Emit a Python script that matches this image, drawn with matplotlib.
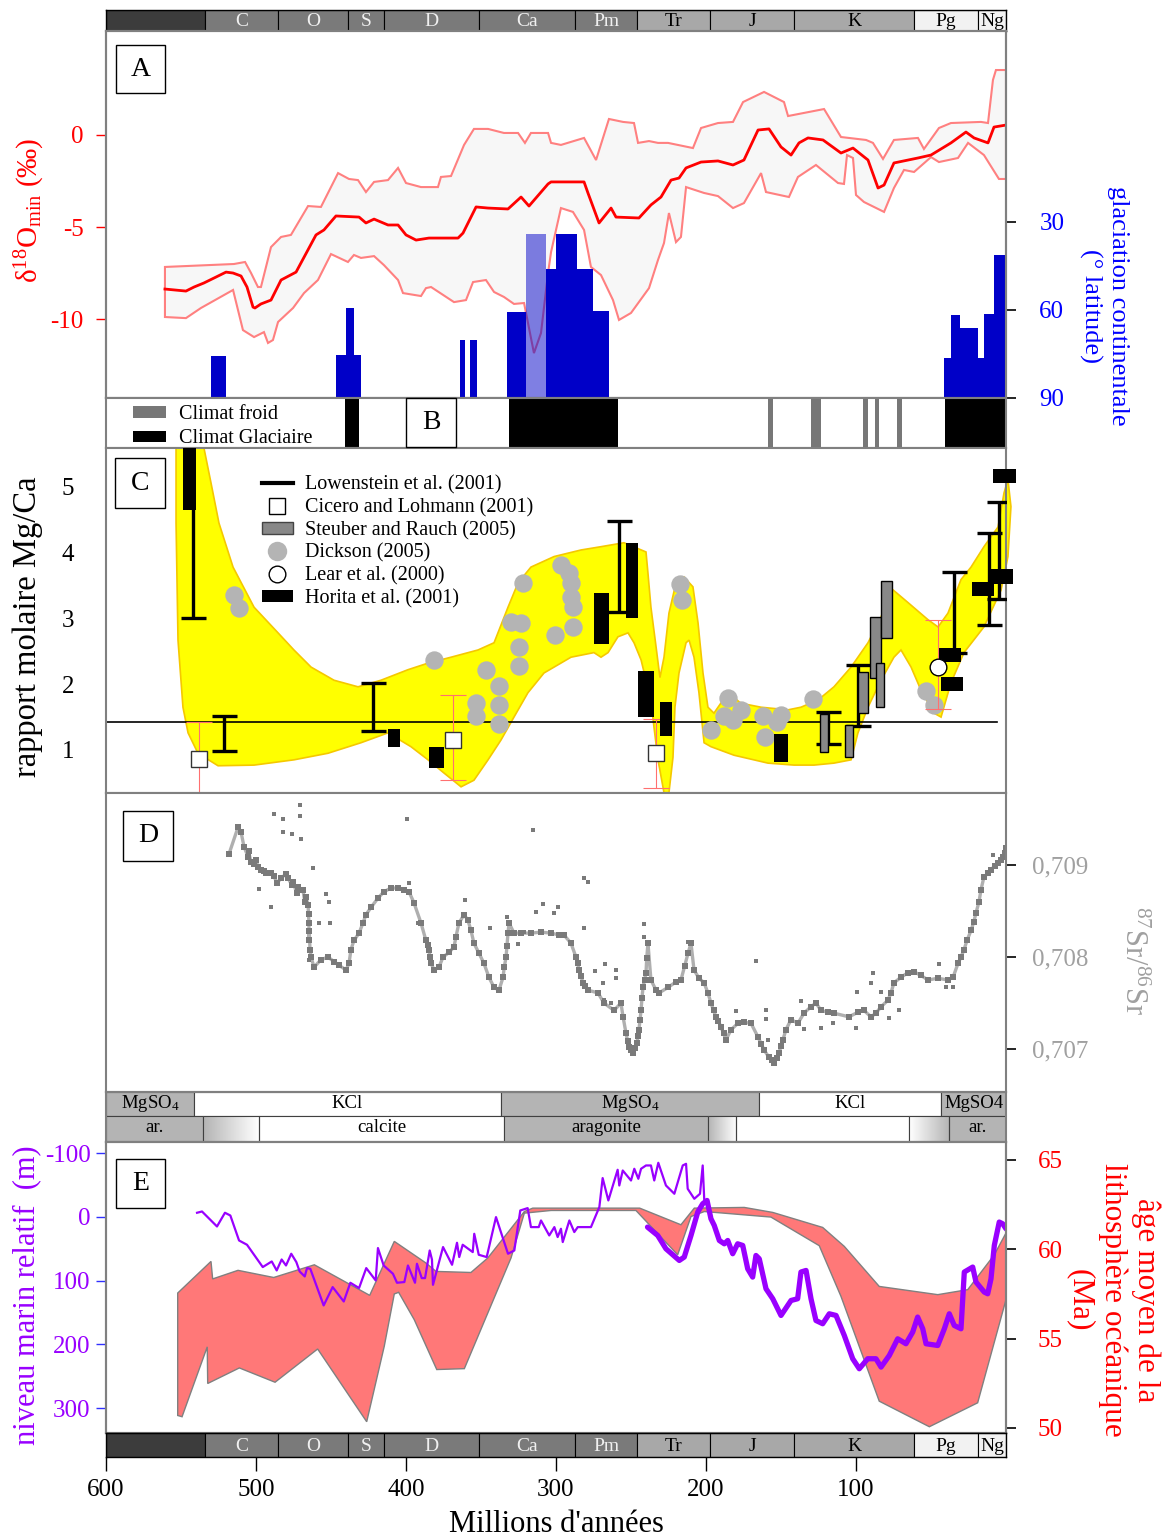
import numpy as np
import matplotlib
matplotlib.use('Agg')
import matplotlib.pyplot as plt
from matplotlib.patches import Rectangle, Patch
from matplotlib.lines import Line2D
from matplotlib.colors import LinearSegmentedColormap

plt.rcParams['font.family'] = ['Liberation Serif', 'DejaVu Serif']
plt.rcParams['mathtext.fontset'] = 'custom'
plt.rcParams['mathtext.rm'] = 'Liberation Serif'
plt.rcParams['mathtext.it'] = 'Liberation Serif:italic'
plt.rcParams['mathtext.bf'] = 'Liberation Serif:bold'
plt.rcParams['axes.unicode_minus'] = False

# ---------------- DATA ----------------
# geological time scale (Ma)
period_names = ['', 'C', 'O', 'S', 'D', 'Ca', 'Pm', 'Tr', 'J', 'K', 'Pg', 'Ng']
period_start = [600, 534, 485.3, 438.7, 414.7, 351.3, 287.3, 246, 197.3, 141.3, 61.3, 18.7]
period_end = [534, 485.3, 438.7, 414.7, 351.3, 287.3, 246, 197.3, 141.3, 61.3, 18.7, 0]
x_ticks = [600, 500, 400, 300, 200, 100]

# Panel A : d18O min (permil)
d18_mean_age = [560.7, 546.7, 541.3, 534.7, 526.7, 520, 515.3, 510, 506, 502, 500.7, 496.7, 490, 483.3, 473.3, 460, 454.7, 446.7, 431.3, 426.7, 421.3, 412, 405.3, 400, 393.3, 384.7, 365.3, 362, 353.3, 345.3, 332, 323.3, 318, 305.3, 303.3, 281.3, 278.7, 271.3, 263.3, 260, 244.7, 236.7, 230, 223.3, 218, 213.3, 203.3, 192, 182, 174.7, 165.3, 158, 150, 143.3, 138, 132, 122, 110, 102, 92, 85.3, 81.3, 74.7, 58.7, 50, 36.7, 26.7, 21.3, 12, 8, 0]
d18_mean = [-8.37, -8.48, -8.26, -8.04, -7.72, -7.45, -7.5, -7.66, -8.26, -9.35, -9.4, -9.18, -8.97, -7.88, -7.45, -5.43, -5.16, -4.4, -4.46, -4.78, -4.57, -4.89, -4.89, -5.43, -5.71, -5.6, -5.6, -5.33, -3.91, -3.97, -4.02, -3.37, -3.86, -2.66, -2.55, -2.55, -3.15, -4.78, -3.97, -4.46, -4.51, -3.8, -3.37, -2.45, -2.34, -1.79, -1.47, -1.41, -1.63, -1.36, 0.27, 0.33, -0.65, -1.09, -0.43, -0.16, -0.27, -0.98, -0.71, -1.36, -2.88, -2.72, -1.52, -1.25, -1.09, -0.43, 0.16, -0.16, -0.43, 0.43, 0.54]
d18_up_age = [560.7, 514.7, 507.3, 503.3, 498.7, 496.7, 490, 483.3, 476.7, 465.3, 456.7, 445.3, 438, 432, 426.7, 421.3, 412, 405.3, 400, 390, 378.7, 376.7, 370, 361.3, 354.7, 345.3, 334.7, 325.3, 320.7, 316.7, 305.3, 303.3, 296.7, 281.3, 273.3, 264.7, 255.3, 248, 245.3, 238, 232, 225.3, 208.7, 203.3, 192, 182, 175.3, 161.3, 148, 145.3, 121.3, 110, 93.3, 88.7, 82, 74.7, 58.7, 54.7, 44.7, 36.7, 16.7, 12, 8.7, 6.7, 0]
d18_up = [-7.17, -7.01, -6.9, -7.5, -8.26, -8.26, -6.09, -5.54, -5.43, -3.86, -3.91, -2.07, -2.39, -2.45, -3.1, -2.55, -2.45, -1.79, -2.61, -2.83, -2.83, -2.28, -2.23, -0.54, 0.33, 0.33, 0.11, 0.11, -0.43, 0.11, 0.11, -0.43, -0.54, -0.16, -1.36, 0.87, 0.71, 0.65, -0.43, -0.33, -0.43, -0.43, -0.71, 0.38, 0.65, 0.71, 1.79, 2.34, 1.79, 1.03, 1.41, -0.11, -0.27, -0.43, -1.3, -0.27, -0.16, -0.76, 0.38, 0.65, 0.71, 0.65, 2.99, 3.53, 3.53]
d18_lo_age = [560.7, 546.7, 536.7, 515.3, 512, 508.7, 501.3, 494.7, 492, 488.7, 485.3, 475.3, 468, 458.7, 450, 438.7, 434.7, 430, 421.3, 414.7, 405.3, 402, 390, 386.7, 383.3, 368, 360, 355.3, 346.7, 341.3, 334.7, 328, 321.3, 314.7, 310, 305.3, 303.3, 296.7, 288.7, 281.3, 276.7, 270, 262, 258, 250, 238, 232, 228, 224.7, 220, 216.7, 213.3, 201.3, 192, 182, 174.7, 163.3, 160, 144.7, 138.7, 126.7, 112, 108, 106, 102, 100, 94.7, 81.3, 74.7, 68, 61.3, 50, 44.7, 32, 25.3, 14.7, 4.7, 0]
d18_lo = [-9.89, -9.95, -9.4, -8.42, -9.51, -10.6, -10.98, -10.71, -11.3, -11.14, -10.16, -9.4, -8.59, -7.88, -6.47, -6.9, -6.52, -6.68, -6.58, -7.07, -7.88, -8.59, -8.75, -8.32, -8.26, -9.08, -8.97, -7.99, -7.88, -8.53, -8.8, -9.18, -9.13, -11.85, -10.76, -7.5, -6.36, -3.97, -4.18, -5.16, -7.17, -7.61, -8.97, -10.05, -9.67, -8.32, -6.79, -5.87, -4.24, -5.82, -5.54, -2.83, -3.15, -3.32, -3.97, -3.7, -2.07, -3.1, -3.37, -2.28, -1.63, -2.61, -2.66, -1.09, -1.25, -3.26, -3.64, -4.18, -2.88, -1.9, -2.01, -1.2, -1.47, -1.25, -0.43, -1.09, -2.39, -2.39]
d18_ticks = [0, -5, -10]

# Panel A : continental glaciation (degrees latitude)
glac_old = [530, 446.7, 440, 364, 357.3, 332.7, 306.7, 300, 286, 275.3, 41.3, 36.7, 30.7, 18.7, 14.7, 8]
glac_young = [520, 430, 434.7, 360.7, 352.7, 320, 300, 286, 275.3, 264.7, 36.7, 30.7, 18.7, 14.7, 8, 0.7]
glac_lat = [75.7, 75.4, 59.4, 70.3, 70.3, 60.7, 46, 34.1, 46, 60.4, 76.4, 61.7, 66.2, 76.4, 61.4, 41.3]
glac_unc_old = [320]
glac_unc_young = [306.7]
glac_unc_lat = [34.1]
lat_ticks = [30, 60, 90]

# Panel B : climate
cold_old = [158.7, 130, 95.3, 87.3, 72.7]
cold_young = [155.3, 123.3, 92, 84.7, 69.3]
glacial_old = [440.7, 331.3, 40.7]
glacial_young = [431.3, 258.7, 0]

# Panel C : Mg/Ca
mg_band_age = [534.7, 530, 524.7, 515.3, 501.3, 485.3, 474.7, 463.3, 448, 432, 416.7, 398.7, 385.3, 370, 352, 341.3, 332, 325.3, 316.7, 301.3, 283.3, 270, 254.7, 240, 238.7, 236.7, 233.3, 230.7, 228, 224.7, 220, 214.7, 208.7, 205.3, 202, 198.7, 194.7, 185.3, 176.7, 163.3, 145.3, 136.7, 125.3, 114.7, 103.3, 92, 83.3, 76.7, 65.3, 52, 45.3, 38.7, 30, 23.3, 14.7, 5.3, 1.3, -1.3, -3.3,
               -1.3, 3.3, 14.7, 28, 36.7, 43.3, 48, 56.7, 63.3, 70, 74.7, 83.3, 92, 98.7, 103.3, 114.7, 128, 141.3, 158.7, 181.3, 196.7, 201.3, 204.7, 208, 211.3, 213.3, 218, 220.7, 222, 224.7, 228, 232, 234.7, 236.7, 240, 243.3, 248, 252, 258.7, 265.3, 270, 274.7, 290, 308, 318.7, 328, 336.7, 345.3, 354.7, 363.3, 374.7, 385.3, 396.7, 412, 430, 452, 474.7, 501.3, 525.3, 538.7, 545.3, 548.7, 552, 553.3, 553.3]
mg_band_val = [5.59, 5.06, 4.45, 3.78, 3.17, 2.78, 2.52, 2.26, 2.06, 1.96, 2.06, 2.22, 2.32, 2.41, 2.52, 2.63, 3.17, 3.54, 3.78, 3.94, 4.04, 4.09, 4.15, 4.01, 3.69, 3.17, 2.57, 2.10, 2.41, 3.08, 3.54, 3.63, 3.48, 2.93, 2.17, 1.65, 1.56, 1.87, 1.71, 1.65, 1.61, 1.65, 1.76, 1.96, 2.26, 2.63, 3.02, 3.46, 3.24, 2.98, 2.87, 3.08, 3.59, 3.78, 4.09, 4.39, 4.91, 5.11, 4.70,
               3.94, 3.43, 2.87, 2.48, 2.02, 1.50, 1.56, 1.91, 2.26, 2.52, 2.41, 2.06, 1.65, 1.26, 0.85, 0.80, 0.77, 0.77, 0.80, 0.92, 1.05, 1.11, 1.87, 2.41, 2.67, 2.63, 2.17, 1.65, 0.89, 0.35, 0.35, 0.85, 1.35, 1.76, 2.06, 2.37, 2.63, 2.78, 2.72, 2.48, 2.41, 2.48, 2.41, 2.17, 1.87, 1.50, 1.15, 0.85, 0.54, 0.44, 0.65, 0.85, 1.05, 1.26, 1.11, 0.95, 0.85, 0.77, 0.76, 0.95, 1.26, 1.65, 2.67, 4.45, 5.59]
mg_ref_level = 1.43
mg_ref_span = [600, 6]
lowen_age = [542, 521.3, 422, 258, 118.7, 98.7, 34.7, 11.3, 4.7]
lowen_lo = [3.0, 0.98, 1.29, 3.10, 1.09, 1.36, 2.48, 2.90, 3.30]
lowen_hi = [5.9, 1.52, 2.02, 4.48, 1.58, 2.29, 3.71, 4.30, 4.77]
cic_age = [537.8, 368.4, 233.3]
cic_val = [0.87, 1.15, 0.96]
cic_lo = [0.35, 0.54, 0.42]
cic_hi = [1.43, 1.84, 1.47]
steu_old = [124, 107.3, 98.7, 90.7, 86.7, 83.3]
steu_young = [118.7, 102, 92, 83.3, 81.3, 76]
steu_lo = [0.97, 0.89, 1.56, 2.10, 1.65, 2.70]
steu_hi = [1.55, 1.38, 2.19, 3.02, 2.32, 3.57]
dick_age = [514.9, 511.1, 381.5, 346.7, 322.2, 330, 323.3, 324.9, 324.9, 337.8, 353.3, 353.3, 337.8, 337.8, 300.5, 296.7, 291.1, 290, 290, 288.9, 288.5, 217.3, 216.2, 196.7, 185.5, 187.8, 182.2, 176.7, 161.8, 150, 152.9, 160.5, 128.5, 53.3, 48.2]
dick_val = [3.36, 3.16, 2.37, 2.22, 3.54, 2.95, 2.93, 2.56, 2.27, 1.97, 1.72, 1.51, 1.68, 1.40, 2.75, 3.81, 3.69, 3.54, 3.33, 3.18, 2.87, 3.52, 3.28, 1.30, 1.79, 1.51, 1.46, 1.61, 1.51, 1.53, 1.43, 1.19, 1.77, 1.89, 1.68]
lear_age = [45.5]
lear_val = [2.26]
lear_lo = [1.62]
lear_hi = [2.98]
hor_old = [549, 412.2, 384.5, 274.5, 253.3, 245.1, 230.5, 154.5, 44.5, 43.3, 22.7, 12.2, 8.5]
hor_young = [540, 404.2, 374.5, 264.5, 245.1, 234.4, 222.5, 145.1, 30, 28.5, 8.2, -4.9, -6.7]
hor_lo = [4.65, 1.05, 0.73, 2.61, 3.01, 1.50, 1.22, 0.82, 2.33, 1.89, 3.34, 3.52, 5.06]
hor_hi = [5.59, 1.32, 1.05, 3.39, 4.14, 2.20, 1.73, 1.24, 2.55, 2.11, 3.56, 3.75, 5.27]
mg_ticks = [1, 2, 3, 4, 5]

# Panel D : 87Sr/86Sr
sr_trace_age = [518, 512, 510, 508, 505.3, 503.3, 501.3, 498.7, 496.7, 493.3, 490, 488, 483.3, 478.7, 475.3, 472, 468.7, 466.7, 465.3, 464.7, 464.7, 463.3, 461.3, 456.7, 452, 448, 444.7, 440, 438, 436.7, 434.7, 431.3, 428.7, 426.7, 423.3, 418.7, 414.7, 410, 405.3, 401.3, 398, 394.7, 390, 386.7, 384.7, 383.3, 381.3, 378, 375.3, 371.3, 368, 366.7, 364.7, 361.3, 358.7, 356.7, 354.7, 351.3, 348, 344.7, 341.3, 338, 335.3, 333.3, 332, 331.3, 328, 323.3, 316.7, 310, 303.3, 298, 294.7, 290, 286.7, 284.7, 282, 278.7, 272, 268, 261.3, 256.7, 255.3, 253.3, 251.3, 248.7, 246, 244.7, 243.3, 242, 240, 238.7, 236.7, 233.3, 231.3, 225.3, 220, 216.7, 212, 210, 208, 204.7, 201.3, 198.7, 196.7, 193.3, 190, 186.7, 183.3, 178.7, 174.7, 170, 165.3, 161.3, 158, 154.7, 151.3, 148.7, 146.7, 143.3, 138.7, 134.7, 130, 126.7, 123.3, 118.7, 114.7, 104.7, 98.7, 94.7, 90, 86.7, 83.3, 78.7, 76.7, 74.7, 70, 65.3, 61.3, 56.7, 52, 45.3, 38.7, 35.3, 32, 28, 23.3, 20, 16.7, 14.7, 10, 5.3, 2, 0,
                30, 26, 21.5, 18, 12, 7.5, 3.5, 1, 465, 464.5, 464, 385.5, 384, 334.5, 332.7, 285.5, 283.3, 280.5, 252.3, 250, 247.3, 245.3, 244, 242.7, 241, 239.5, 195, 191.7, 188.3, 163.3, 156.3, 153, 150, 214.3, 505, 500, 495, 486, 480, 476, 473, 467.5]
sr_trace_val = [0.70912, 0.70941, 0.70936, 0.70920, 0.70909, 0.70903, 0.70901, 0.70898, 0.70895, 0.70891, 0.70891, 0.70888, 0.70886, 0.70886, 0.70882, 0.70876, 0.70873, 0.70865, 0.70857, 0.70837, 0.70818, 0.70800, 0.70789, 0.70797, 0.70800, 0.70795, 0.70791, 0.70786, 0.70793, 0.70808, 0.70818, 0.70826, 0.70837, 0.70846, 0.70854, 0.70864, 0.70871, 0.70875, 0.70875, 0.70873, 0.70871, 0.70859, 0.70837, 0.70818, 0.70808, 0.70793, 0.70786, 0.70789, 0.70800, 0.70805, 0.70811, 0.70822, 0.70837, 0.70846, 0.70840, 0.70829, 0.70815, 0.70804, 0.70793, 0.70778, 0.70767, 0.70764, 0.70778, 0.70800, 0.70826, 0.70837, 0.70826, 0.70826, 0.70826, 0.70827, 0.70826, 0.70824, 0.70824, 0.70815, 0.70800, 0.70786, 0.70772, 0.70764, 0.70761, 0.70750, 0.70742, 0.70750, 0.70735, 0.70717, 0.70702, 0.70696, 0.70707, 0.70721, 0.70742, 0.70767, 0.70783, 0.70815, 0.70775, 0.70764, 0.70761, 0.70767, 0.70773, 0.70775, 0.70804, 0.70815, 0.70786, 0.70777, 0.70772, 0.70761, 0.70750, 0.70735, 0.70724, 0.70710, 0.70721, 0.70728, 0.70729, 0.70728, 0.70713, 0.70699, 0.70691, 0.70685, 0.70696, 0.70710, 0.70721, 0.70732, 0.70728, 0.70739, 0.70746, 0.70750, 0.70742, 0.70740, 0.70739, 0.70735, 0.70740, 0.70742, 0.70735, 0.70739, 0.70746, 0.70753, 0.70761, 0.70772, 0.70778, 0.70783, 0.70784, 0.70780, 0.70775, 0.70777, 0.70775, 0.70778, 0.70793, 0.70808, 0.70829, 0.70848, 0.70873, 0.70887, 0.70895, 0.70902, 0.70909, 0.70918,
                0.70800, 0.70818, 0.70838, 0.70860, 0.70891, 0.70899, 0.70905, 0.70913, 0.70847, 0.70828, 0.70808, 0.70813, 0.70800, 0.70789, 0.70812, 0.70793, 0.70779, 0.70768, 0.70709, 0.70699, 0.70701, 0.70714, 0.70732, 0.70755, 0.70775, 0.70799, 0.70742, 0.70730, 0.70717, 0.70706, 0.70688, 0.70690, 0.70703, 0.70790, 0.70915, 0.70905, 0.70893, 0.70880, 0.70890, 0.70878, 0.70870, 0.70860]
sr_out_age = [470.7, 470.7, 488, 482, 482, 476, 470, 399.3, 315.3, 462, 453.3, 451.3, 490, 498, 458, 450.7, 465.3, 464.7, 398, 392, 360.7, 344, 332.7, 325.3, 321.3, 308.7, 313.3, 301.3, 281.3, 278.7, 298.7, 281.3, 241.3, 241.3, 212, 211.3, 267.3, 274, 260, 268.7, 260, 268, 263.3, 166.7, 180, 160, 160, 164.7, 158.7, 136.7, 134.7, 123.3, 115.3, 100, 99.3, 88.7, 90, 83.3, 78, 71.3, 44.7, 8.7, 35.3, 40]
sr_out_val = [0.70965, 0.70953, 0.70955, 0.70950, 0.70936, 0.70934, 0.70928, 0.70950, 0.70938, 0.70897, 0.70868, 0.70860, 0.70854, 0.70874, 0.70837, 0.70837, 0.70818, 0.70797, 0.70880, 0.70837, 0.70862, 0.70832, 0.70843, 0.70814, 0.70827, 0.70858, 0.70849, 0.70848, 0.70886, 0.70882, 0.70854, 0.70832, 0.70836, 0.70822, 0.70816, 0.70804, 0.70792, 0.70785, 0.70786, 0.70772, 0.70777, 0.70753, 0.70750, 0.70796, 0.70741, 0.70742, 0.70733, 0.70713, 0.70710, 0.70752, 0.70722, 0.70723, 0.70728, 0.70723, 0.70762, 0.70783, 0.70772, 0.70762, 0.70734, 0.70742, 0.70792, 0.70911, 0.70767, 0.70767]
sr_ticks = [0.707, 0.708, 0.709]
sr_tick_labels = ['0,707', '0,708', '0,709']

# Seawater chemistry / carbonate mineralogy
salt_names = ['MgSO$_4$', 'KCl', 'MgSO$_4$', 'KCl', 'MgSO4']
salt_start = [600, 541.3, 336.7, 164.7, 43.3]
salt_end = [541.3, 336.7, 164.7, 43.3, 0]
min_names = ['ar.', '', 'calcite', 'aragonite', '', '', '', 'ar.']
min_start = [600, 535.3, 498, 334.7, 198.7, 180, 64.7, 38]
min_end = [535.3, 498, 334.7, 198.7, 180, 64.7, 38, 0]
min_kind = ['arag', 'to_calc', 'calc', 'arag', 'to_calc', 'calc', 'to_arag', 'arag']

# Panel E : sea level (m) and mean age of oceanic lithosphere (Ma)
lith_up_age = [552.2, 530, 528.9, 512, 488.2, 461.1, 424.2, 407.8, 386.7, 380, 356.7, 345.5, 321.1, 315.5, 303.3, 244.2, 216.7, 207.8, 174.5, 155.5, 122.2, 107.8, 84.5, 45.5, 25.5, 7.8, 0]
lith_up = [57.55, 59.32, 58.34, 58.82, 58.42, 59.13, 57.42, 60.44, 59.23, 58.76, 58.70, 59.51, 62.11, 62.30, 62.30, 62.30, 61.37, 62.30, 62.34, 62.06, 61.22, 60.16, 57.92, 57.46, 57.74, 59.69, 60.91]
lith_lo_age = [552.2, 549.3, 532.5, 532.2, 511.1, 487.3, 458.9, 426.2, 414.5, 407.8, 404.9, 394.5, 379.5, 361.1, 330, 321.1, 303.3, 246.7, 218.9, 210, 201.1, 156.7, 124.5, 110, 84.5, 51.1, 18.9, 0]
lith_lo = [50.70, 50.63, 54.54, 52.49, 53.36, 52.56, 54.42, 50.35, 54.57, 57.50, 57.59, 56.06, 53.27, 53.32, 59.51, 62.02, 62.17, 62.17, 59.69, 61.83, 62.11, 61.80, 60.20, 57.36, 51.50, 50.07, 51.41, 57.18]
sl_age = [539.3, 536, 526, 520.7, 517.1, 511.3, 506, 495.5, 489.5, 486.2, 482.9, 480, 476.5, 473.1, 470.9, 467.5, 466, 463.8, 454.9, 448.9, 441.5, 437.1, 431.3, 426.5, 420.2, 418.7, 414.9, 408.7, 406, 401.1, 398.7, 394, 392.7, 389.5, 387.3, 384.2, 382.7, 382, 375.3, 369.3, 366, 364.5, 362.2, 355.5, 354.5, 351.5, 346.2, 340, 332, 327.8, 323.8, 318.9, 316.7, 311.5, 310, 304.5, 301.1, 298.9, 296.7, 295.5, 291.1, 287.8, 285.5, 276.7, 271.1, 268.9, 265.1, 258.9, 257.8, 255.5, 250, 247.8, 245.1, 243.3, 240, 236.7, 234.5, 231.8, 226.7, 221.1, 215.5, 213.3, 212.2, 207.8, 204, 202.2, 201.1]
sl_val = [-6.3, -8.3, 15.2, -6.3, -2.0, 37.2, 43.9, 78.9, 70.1, 84.2, 67.0, 76.4, 58.0, 71.1, 85.8, 93.6, 80.5, 81.6, 139.1, 110.3, 132.9, 103.5, 111.8, 80.5, 99.9, 49.1, 76.4, 89.4, 103.5, 102.4, 76.4, 103.5, 73.7, 96.2, 96.2, 52.9, 67.0, 106.7, 47.5, 75.3, 40.8, 63.2, 43.9, 55.4, 26.7, 59.6, 63.2, 0.5, 58.0, 52.9, -9.9, -13.6, 16.2, 16.2, 5.8, 29.3, 16.2, 31.8, 18.8, 39.7, 5.8, 24.0, 16.2, 16.2, -15.2, -60.7, -25.6, -73.7, -49.1, -72.6, -56.9, -75.3, -59.6, -75.3, -80.5, -80.5, -56.9, -84.7, -49.1, -36.1, -80.5, -83.1, -43.9, -28.2, -36.1, -80.5, -23.1]
sl2_age = [239, 232.2, 226.7, 217.8, 214.5, 210, 205.5, 202.2, 199.3, 196.7, 194.5, 191.1, 187.8, 185.5, 182.2, 178.9, 175.5, 172.2, 168.9, 166.7, 164.5, 160, 155.5, 150, 143.3, 138.9, 136.7, 133.3, 130, 126.7, 122.2, 117.8, 113.3, 107.8, 102.2, 97.8, 92.2, 86.7, 83.3, 77.8, 72.2, 66.7, 62.2, 58.9, 55.5, 53.3, 45.5, 41.1, 37.8, 34.5, 30, 27.8, 22.2, 20, 14.5, 12.2, 10, 7.8, 4.5, 2.2, 0]
sl2_val = [16.2, 29.3, 50.2, 68.5, 63.2, 29.3, -7.4, -20.4, -25.6, 3.1, 13.6, 37.2, 42.4, 37.2, 58.0, 42.4, 45.0, 81.6, 94.6, 60.7, 65.9, 112.9, 128.6, 154.8, 131.3, 128.6, 86.7, 84.2, 128.6, 162.7, 167.8, 152.2, 154.8, 186.2, 222.7, 238.4, 222.7, 222.7, 235.8, 217.6, 191.4, 199.2, 180.9, 157.3, 175.7, 199.2, 201.9, 175.7, 152.2, 170.5, 175.7, 86.7, 78.9, 102.4, 118.1, 120.8, 97.3, 45.0, 8.3, 11.0, 18.8]
sl_ticks = [-100, 0, 100, 200, 300]
lith_ticks = [50, 55, 60, 65]

# ---------------- STYLE / LAYOUT ----------------
W, H = 1173, 1537
fig = plt.figure(figsize=(W / 100, H / 100), dpi=100)
X0, XW = 106, 900
FRAME = '#808080'
BLUE = '#0000c8'
PURPLE = '#9900ff'
SRGRAY = '#7a7a7a'

period_fill = ['#3c3c3c'] + ['#7a7a7a'] * 6 + ['#a8a8a8'] * 3 + ['#f2f2f2'] * 2
period_textc = ['#f0f0f0'] * 7 + ['black'] * 5


def add_ax(top, bottom):
    ax = fig.add_axes([X0 / W, 1 - bottom / H, XW / W, (bottom - top) / H])
    ax.set_xlim(600, 0)
    ax.set_xticks([])
    return ax


def frame(ax, color=FRAME, lw=1.5):
    for s in ax.spines.values():
        s.set_color(color)
        s.set_linewidth(lw)


def label_box(letter, x0, y0, x1, y1):
    fig.patches.append(Rectangle((x0 / W, 1 - y1 / H), (x1 - x0) / W, (y1 - y0) / H,
                                 transform=fig.transFigure, fc='white', ec='black', lw=1.0, zorder=5))
    fig.text((x0 + x1) / 2 / W, 1 - (y0 + y1) / 2 / H, letter, ha='center', va='center',
             fontsize=20, zorder=6)


def timescale(ax):
    ax.set_ylim(0, 1)
    ax.set_yticks([])
    for name, s, e, c, tc in zip(period_names, period_start, period_end, period_fill, period_textc):
        ax.axvspan(s, e, fc=c, ec='black', lw=0.8)
        ax.text((s + e) / 2, 0.45, name, ha='center', va='center', color=tc, fontsize=14)
    frame(ax, 'black', 1.0)


# top time scale
axT = add_ax(10, 31)
timescale(axT)

# ---- Panel A ----
axA = add_ax(31, 398)
axA.set_ylim(-14.29, 5.65)
axA.fill(np.r_[d18_up_age, d18_lo_age[::-1]], np.r_[d18_up, d18_lo[::-1]],
         fc='#f7f7f7', ec='#ff8080', lw=1.5, zorder=1)
axA.plot(d18_mean_age, d18_mean, color='#ff0000', lw=2, zorder=3)
axA.set_yticks(d18_ticks)
axA.set_yticklabels([str(t) for t in d18_ticks])
axA.tick_params(axis='y', colors='#ff0000', length=7, width=1, labelsize=18, pad=9)
axA.text(-0.0844, 0.512, 'δ$^{18}$O$_{\\rm min}$ (‰)', transform=axA.transAxes,
         rotation=90, ha='center', va='center', color='#ff0000', fontsize=21)
frame(axA)

axA2 = axA.twinx()
axA2.set_xlim(600, 0)
axA2.set_ylim(90, -34.8)
gx = [(o + y) / 2 for o, y in zip(glac_old, glac_young)]
gw = [o - y for o, y in zip(glac_old, glac_young)]
axA2.bar(gx, [l - 90 for l in glac_lat], bottom=90, width=gw, color=BLUE, lw=0)
ux = [(o + y) / 2 for o, y in zip(glac_unc_old, glac_unc_young)]
uw = [o - y for o, y in zip(glac_unc_old, glac_unc_young)]
axA2.bar(ux, [l - 90 for l in glac_unc_lat], bottom=90, width=uw, color=BLUE, alpha=0.5, lw=0)
axA2.set_yticks(lat_ticks)
axA2.tick_params(axis='y', color='black', labelcolor='#0000ff', length=7, width=1.2, labelsize=18, pad=17)
axA2.text(1.109, 0.25, 'glaciation continentale\n(° latitude)', transform=axA2.transAxes,
          rotation=-90, ha='center', va='center', color='#0000ff', fontsize=19, linespacing=1.3)
frame(axA2)
label_box('A', 116, 45, 165, 93)

# ---- Panel B ----
axB = add_ax(398, 448)
axB.set_ylim(0, 1)
axB.set_yticks([])
for o, y in zip(cold_old, cold_young):
    axB.axvspan(o, y, color='#777777', lw=0)
for o, y in zip(glacial_old, glacial_young):
    axB.axvspan(o, y, color='black', lw=0)
axB.legend(handles=[Patch(fc='#777777'), Patch(fc='black')],
           labels=['Climat froid', 'Climat Glaciaire'], loc='upper left',
           bbox_to_anchor=(0.03, 0.86), frameon=False, fontsize=14.5, handlelength=1.65,
           handleheight=0.5, handletextpad=0.65, labelspacing=0.27, borderpad=0, borderaxespad=0)
frame(axB)
label_box('B', 406, 398, 456, 447)

# ---- Panel C ----
axC = add_ax(448, 793)
axC.set_ylim(0.346, 5.59)
axC.fill(mg_band_age, mg_band_val, fc='#ffff00', ec='#f5c800', lw=1.2, zorder=1, clip_on=False)
axC.plot(mg_ref_span, [mg_ref_level] * 2, color='black', lw=1.2, zorder=2)
axC.scatter(dick_age, dick_val, s=175, c='#b4b4b4', lw=0, zorder=3)
lmid = [(a + b) / 2 for a, b in zip(lowen_lo, lowen_hi)]
lerr = [(b - a) / 2 for a, b in zip(lowen_lo, lowen_hi)]
axC.errorbar(lowen_age, lmid, yerr=lerr, fmt='none', ecolor='black', elinewidth=2.4,
             capsize=9, capthick=2.4, zorder=4)
axC.errorbar(cic_age, cic_val, yerr=[[v - l for v, l in zip(cic_val, cic_lo)], [h - v for v, h in zip(cic_val, cic_hi)]],
             fmt='none', ecolor='#ff7070', elinewidth=0.8, capsize=9.5, capthick=0.8, zorder=3)
axC.errorbar(lear_age, lear_val, yerr=[[v - l for v, l in zip(lear_val, lear_lo)], [h - v for v, h in zip(lear_val, lear_hi)]],
             fmt='none', ecolor='#ff7070', elinewidth=0.8, capsize=9.5, capthick=0.8, zorder=3)
axC.bar([(o + y) / 2 for o, y in zip(hor_old, hor_young)], [h - l for l, h in zip(hor_lo, hor_hi)],
        bottom=hor_lo, width=[o - y for o, y in zip(hor_old, hor_young)], color='black', lw=0,
        zorder=5, clip_on=False)
axC.bar([(o + y) / 2 for o, y in zip(steu_old, steu_young)], [h - l for l, h in zip(steu_lo, steu_hi)],
        bottom=steu_lo, width=[o - y for o, y in zip(steu_old, steu_young)], color='#888888',
        ec='black', lw=1, zorder=5)
axC.plot(cic_age, cic_val, 's', ms=11, mfc='white', mec='#333333', mew=1, zorder=6)
axC.plot(lear_age, lear_val, 'o', ms=12, mfc='white', mec='black', mew=1, zorder=6)
axC.set_yticks(mg_ticks)
axC.tick_params(axis='y', length=0, labelsize=18, pad=23)
axC.text(-0.0867, 0.481, 'rapport molaire Mg/Ca', transform=axC.transAxes, rotation=90,
         ha='center', va='center', fontsize=23.5)
handles = [Line2D([], [], color='black', lw=3),
           Line2D([], [], marker='s', ls='none', mfc='white', mec='black', ms=11, mew=1),
           Patch(fc='#888888', ec='#444444'),
           Line2D([], [], marker='o', ls='none', mfc='#b4b4b4', mec='none', ms=14),
           Line2D([], [], marker='o', ls='none', mfc='white', mec='black', ms=12, mew=1),
           Patch(fc='black')]
leg_labels = ['Lowenstein et al. (2001)', 'Cicero and Lohmann (2001)', 'Steuber and Rauch (2005)',
              'Dickson (2005)', 'Lear et al. (2000)', 'Horita et al. (2001)']
axC.legend(handles=handles, labels=leg_labels, loc='upper left', bbox_to_anchor=(0.173, 0.92),
           frameon=False, fontsize=14.5, handlelength=1.55, handleheight=0.5, handletextpad=0.6,
           labelspacing=0.17, borderpad=0, borderaxespad=0)
frame(axC)
label_box('C', 115, 458, 165, 508)

# ---- Panel D ----
axD = add_ax(793, 1092)
order = np.argsort(-np.asarray(sr_trace_age), kind='stable')
axD.plot(np.asarray(sr_trace_age)[order], np.asarray(sr_trace_val)[order], '-', lw=2.4,
         color=SRGRAY, alpha=0.6)
axD.plot(sr_trace_age, sr_trace_val, 's', ms=4.2, color=SRGRAY, mew=0)
axD.plot(sr_out_age, sr_out_val, 's', ms=3.2, color=SRGRAY, mew=0)
axD.set_ylim(0.706533, 0.709783)
axD.yaxis.tick_right()
axD.set_yticks(sr_ticks)
axD.set_yticklabels(sr_tick_labels)
axD.tick_params(axis='y', color='black', labelcolor='#a0a0a0', length=7, width=1.2, labelsize=18, pad=12)
axD.text(1.141, 0.441, r'$^{87}$Sr/$^{86}$Sr', transform=axD.transAxes, rotation=-90,
         ha='center', va='center', color='#a0a0a0', fontsize=22)
frame(axD)
label_box('D', 123, 811, 173, 861)

# ---- seawater chemistry bars ----
axS = add_ax(1092, 1142)
ROW = 1.04
for name, s, e, i in zip(salt_names, salt_start, salt_end, range(len(salt_names))):
    fc = '#b4b4b4' if i % 2 == 0 else 'white'
    axS.add_patch(Rectangle((e, ROW), s - e, 2 - ROW, fc=fc, ec='#404040', lw=0.8))
    axS.text((s + e) / 2, (ROW + 2) / 2, name, ha='center', va='center', fontsize=13.5)
gray2white = LinearSegmentedColormap.from_list('g2w', ['#b4b4b4', '#ffffff'])
white2gray = LinearSegmentedColormap.from_list('w2g', ['#ffffff', '#b4b4b4'])
grad = np.linspace(0, 1, 64)[None, :]
for name, s, e, kind in zip(min_names, min_start, min_end, min_kind):
    if kind == 'arag':
        axS.add_patch(Rectangle((e, 0), s - e, ROW, fc='#b4b4b4', ec='#404040', lw=0.8))
    elif kind == 'calc':
        axS.add_patch(Rectangle((e, 0), s - e, ROW, fc='white', ec='#404040', lw=0.8))
    else:
        cm = gray2white if kind == 'to_calc' else white2gray
        axS.imshow(grad, extent=(s, e, 0, ROW), cmap=cm, aspect='auto', zorder=1)
        axS.add_patch(Rectangle((e, 0), s - e, ROW, fc='none', ec='#404040', lw=0.8, zorder=2))
    if name:
        axS.text((s + e) / 2, ROW / 2 + 0.05, name, ha='center', va='center', fontsize=13.5, zorder=3)
axS.set_xlim(600, 0)
axS.set_ylim(0, 2)
axS.set_yticks([])
frame(axS)

# ---- Panel E ----
axE = add_ax(1142, 1433)
axE.set_ylim(49.72, 66.0)
axE.fill(np.r_[lith_up_age, lith_lo_age[::-1]], np.r_[lith_up, lith_lo[::-1]],
         fc='#ff7878', ec='#808080', lw=1.0, zorder=1)
frame(axE)

axE2 = axE.twinx()
axE2.set_xlim(600, 0)
axE2.set_ylim(339.2, -117.3)
axE2.plot(sl_age, sl_val, color=PURPLE, lw=1.6)
axE2.plot(sl2_age, sl2_val, color=PURPLE, lw=3.8, solid_capstyle='round')
axE2.yaxis.tick_left()
axE2.set_yticks(sl_ticks)
axE2.set_yticklabels([str(t) for t in sl_ticks])
axE2.tick_params(axis='y', which='both', left=True, right=False, labelleft=True, labelright=False,
                 color='#3030ff', labelcolor=PURPLE, length=7, width=1, labelsize=18, pad=4)
axE2.text(-0.0878, 0.474, 'niveau marin relatif  (m)', transform=axE2.transAxes, rotation=90,
          ha='center', va='center', color=PURPLE, fontsize=22)
frame(axE2)

# lithosphere-age axis on the right (set after twinx, which resets it)
axE.yaxis.tick_right()
axE.set_yticks(lith_ticks)
axE.tick_params(axis='y', which='both', left=False, right=True, labelleft=False, labelright=True,
                color='black', labelcolor='#ff0000', length=7, width=1.2, labelsize=18, pad=16)
axE.text(1.119, 0.457, 'âge moyen de la\nlithosphère océanique\n(Ma)', transform=axE.transAxes,
         rotation=-90, ha='center', va='center', color='#ff0000', fontsize=22.5, linespacing=1.15)
label_box('E', 116, 1159, 165, 1208)

# bottom time scale with x axis
axT2 = add_ax(1433, 1457)
timescale(axT2)
axT2.set_xticks(x_ticks)
axT2.tick_params(axis='x', length=10, width=1, labelsize=18, pad=6)
axT2.set_xlabel("Millions d'années", fontsize=22, labelpad=6)

fig.savefig('out.png', dpi=100)
